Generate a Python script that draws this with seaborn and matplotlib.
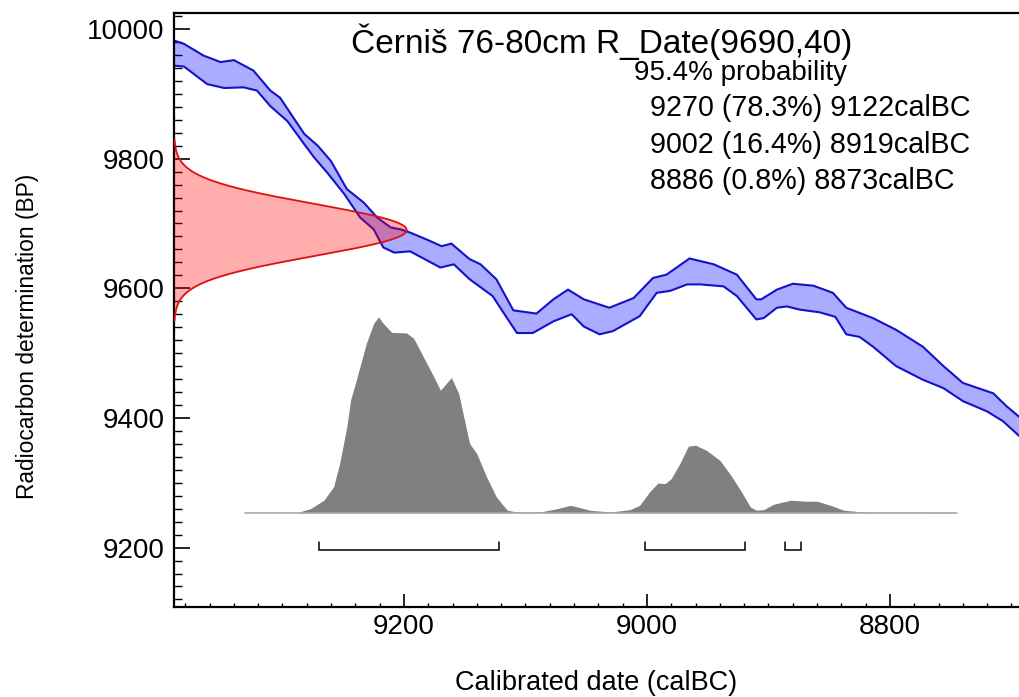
import numpy as np
import pandas as pd
import matplotlib
matplotlib.use("Agg")
import matplotlib.pyplot as plt
import seaborn as sns
from matplotlib.ticker import MultipleLocator, FixedLocator

# ---- calibration curve band (calBC, BP): upper and lower 1-sigma edges ----
curve_upper_year = [9392, 9381, 9365, 9351, 9340, 9324, 9310, 9302, 9282, 9271,
                    9260, 9247, 9233, 9222, 9211, 9203, 9195, 9181, 9169, 9161,
                    9146, 9137, 9124, 9110, 9091, 9077, 9065, 9052, 9031, 9011,
                    8995, 8984, 8965, 8945, 8926, 8910, 8906, 8893, 8880, 8863,
                    8847, 8836, 8814, 8795, 8773, 8756, 8740, 8715, 8704, 8690]
curve_upper_bp = [9984, 9977, 9959, 9949, 9952, 9936, 9905, 9894, 9838, 9820,
                  9796, 9753, 9732, 9709, 9694, 9691, 9686, 9675, 9665, 9669,
                  9645, 9637, 9614, 9566, 9561, 9583, 9598, 9583, 9570, 9585,
                  9616, 9621, 9646, 9637, 9621, 9583, 9583, 9598, 9607, 9604,
                  9593, 9570, 9554, 9536, 9510, 9480, 9454, 9438, 9418, 9396]
curve_lower_year = [9392, 9381, 9362, 9348, 9332, 9321, 9310, 9296, 9282, 9274,
                    9263, 9249, 9236, 9225, 9217, 9208, 9195, 9170, 9159, 9146,
                    9127, 9118, 9107, 9094, 9077, 9062, 9052, 9039, 9028, 9006,
                    8992, 8981, 8967, 8956, 8937, 8926, 8910, 8904, 8893, 8885,
                    8874, 8858, 8845, 8836, 8825, 8814, 8795, 8773, 8756, 8740,
                    8720, 8707, 8690]
curve_lower_bp = [9944, 9942, 9915, 9909, 9910, 9905, 9881, 9858, 9822, 9802,
                  9778, 9745, 9709, 9691, 9663, 9655, 9657, 9632, 9637, 9614,
                  9588, 9562, 9531, 9531, 9549, 9560, 9541, 9529, 9534, 9557,
                  9593, 9596, 9606, 9606, 9603, 9588, 9552, 9554, 9570, 9572,
                  9567, 9563, 9556, 9529, 9525, 9510, 9480, 9459, 9446, 9426,
                  9410, 9395, 9366]

# ---- calibrated date: relative probability ----
post_year = [9331, 9288, 9277, 9266, 9258, 9253, 9247, 9244, 9240, 9231,
             9225, 9221, 9217, 9210, 9198, 9192, 9184, 9176, 9170, 9161,
             9155, 9146, 9140, 9132, 9124, 9115, 9107, 9088, 9074, 9063,
             9055, 9047, 9030, 9014, 9006, 8998, 8991, 8985, 8980, 8973,
             8966, 8960, 8951, 8940, 8932, 8923, 8915, 8910, 8904, 8896,
             8882, 8869, 8860, 8849, 8838, 8822, 8745]
post_prob = [0.0, 0.0, 0.02, 0.063, 0.131, 0.25, 0.44, 0.574, 0.66, 0.864,
             0.966, 1.0, 0.966, 0.92, 0.918, 0.89, 0.795, 0.70, 0.625, 0.69,
             0.608, 0.353, 0.30, 0.182, 0.08, 0.012, 0.003, 0.003, 0.02, 0.037,
             0.025, 0.012, 0.003, 0.015, 0.037, 0.105, 0.151, 0.148, 0.174, 0.25,
             0.339, 0.344, 0.318, 0.267, 0.2, 0.114, 0.029, 0.012, 0.015, 0.042,
             0.063, 0.058, 0.058, 0.037, 0.012, 0.003, 0.0]

# ---- radiocarbon measurement and 95.4% ranges ----
sample_name = "Černiš 76-80cm"
r_date_mean = 9690
r_date_sd = 40
range_from = [9270, 9002, 8886]
range_to = [9122, 8919, 8873]
range_pct = [78.3, 16.4, 0.8]
prob_level = 95.4

x_ticks = [9200, 9000, 8800]
y_ticks = [9200, 9400, 9600, 9800, 10000]

# ---- layout ----
XLIM = (9389.3, 8693.8)
YLIM = (9108.8, 10024.7)
POST_BASE = 9254          # baseline of the probability plot (BP units)
POST_HEIGHT = 302         # height of the probability peak (BP units)
RDATE_WIDTH = 191.5       # width of the measurement curve (years)
BRACKET_Y = 9196
BRACKET_TICK = 13

sns.set_theme(style="white")
plt.rcParams['font.family'] = ['Liberation Sans', 'DejaVu Sans']

fig = plt.figure(figsize=(10.19, 6.97), dpi=100)
ax = fig.add_axes([174 / 1019, 1 - 606.7 / 697, 845 / 1019, (606.7 - 13) / 697])

# calibrated probability (grey)
post = pd.DataFrame({"year": post_year, "prob": post_prob})
post["bp"] = POST_BASE + post["prob"] * POST_HEIGHT
ax.fill_between(post["year"], POST_BASE, post["bp"], color="#808080",
                linewidth=0, zorder=1)
sns.lineplot(data=post, x="year", y=[POST_BASE] * len(post), ax=ax,
             color="#a8a8a8", linewidth=1.2, zorder=1.5)

# calibration curve band
band_x = list(curve_upper_year) + list(curve_lower_year)[::-1]
band_y = list(curve_upper_bp) + list(curve_lower_bp)[::-1]
ax.fill(band_x, band_y, color="#0000ff", alpha=0.33, linewidth=0, zorder=2)
for yrs, bps in ((curve_upper_year, curve_upper_bp), (curve_lower_year, curve_lower_bp)):
    sns.lineplot(x=yrs, y=bps, ax=ax, sort=False, estimator=None,
                 color="#1212c8", linewidth=1.5, zorder=2.5)

# radiocarbon measurement distribution on the BP axis
bp_grid = np.linspace(r_date_mean - 3.5 * r_date_sd, r_date_mean + 3.5 * r_date_sd, 300)
dens = np.exp(-0.5 * ((bp_grid - r_date_mean) / r_date_sd) ** 2)
x_curve = XLIM[0] - RDATE_WIDTH * dens
ax.fill_betweenx(bp_grid, XLIM[0], x_curve, color="#ff0000", alpha=0.32,
                 linewidth=0, zorder=3)
sns.lineplot(x=x_curve, y=bp_grid, ax=ax, sort=False, estimator=None,
             color="#e01010", linewidth=1.3, zorder=3.5)

# range brackets
for a, b in zip(range_from, range_to):
    ax.plot([a, a, b, b], [BRACKET_Y + BRACKET_TICK, BRACKET_Y, BRACKET_Y, BRACKET_Y + BRACKET_TICK],
            color="black", linewidth=1.1, zorder=4, solid_joinstyle="miter")

# axes styling
ax.set_xlim(*XLIM)
ax.set_ylim(*YLIM)
ax.xaxis.set_major_locator(FixedLocator(x_ticks))
ax.yaxis.set_major_locator(FixedLocator(y_ticks))
ax.xaxis.set_minor_locator(MultipleLocator(20))
ax.yaxis.set_minor_locator(MultipleLocator(20))
ax.set_xticklabels([str(v) for v in x_ticks])
ax.set_yticklabels([str(v) for v in y_ticks])
ax.tick_params(axis="both", which="both", direction="in", color="black",
               labelsize=20, labelcolor="black", bottom=True, left=True,
               top=False, right=False)
ax.tick_params(axis="y", which="major", length=11.5, width=1.2, pad=7)
ax.tick_params(axis="y", which="minor", length=5.8, width=1.0)
ax.tick_params(axis="x", which="major", length=9.6, width=1.2, pad=5)
ax.tick_params(axis="x", which="minor", length=2.9, width=1.0)
for side in ("left", "bottom", "top"):
    ax.spines[side].set_visible(True)
    ax.spines[side].set_color("black")
    ax.spines[side].set_linewidth(1.6)
ax.spines["right"].set_visible(False)
ax.grid(False)

ax.set_xlabel("Calibrated date (calBC)", fontsize=19.5, color="black")
ax.xaxis.label.set_va("center")
ax.xaxis.set_label_coords(0.5, -0.1285)
ax.set_ylabel("Radiocarbon determination (BP)", fontsize=16.4, color="black")
ax.yaxis.label.set_va("center")
ax.yaxis.set_label_coords(-0.1728, 0.456)

# annotation text
ax.text(0.5065, 0.951, f"{sample_name} R_Date({r_date_mean},{r_date_sd})",
        transform=ax.transAxes, ha="center", va="center", fontsize=24, color="black")
ax.text(0.544, 0.899, f"{prob_level}% probability", transform=ax.transAxes,
        ha="left", va="center", fontsize=20, color="black")
for i, (a, p, b) in enumerate(zip(range_from, range_pct, range_to)):
    ax.text(0.5633, 0.840 - i * 0.0615, f"{a} ({p}%) {b}calBC", transform=ax.transAxes,
            ha="left", va="center", fontsize=20.6, color="black")

fig.savefig("out.png", dpi=100, facecolor="white")
